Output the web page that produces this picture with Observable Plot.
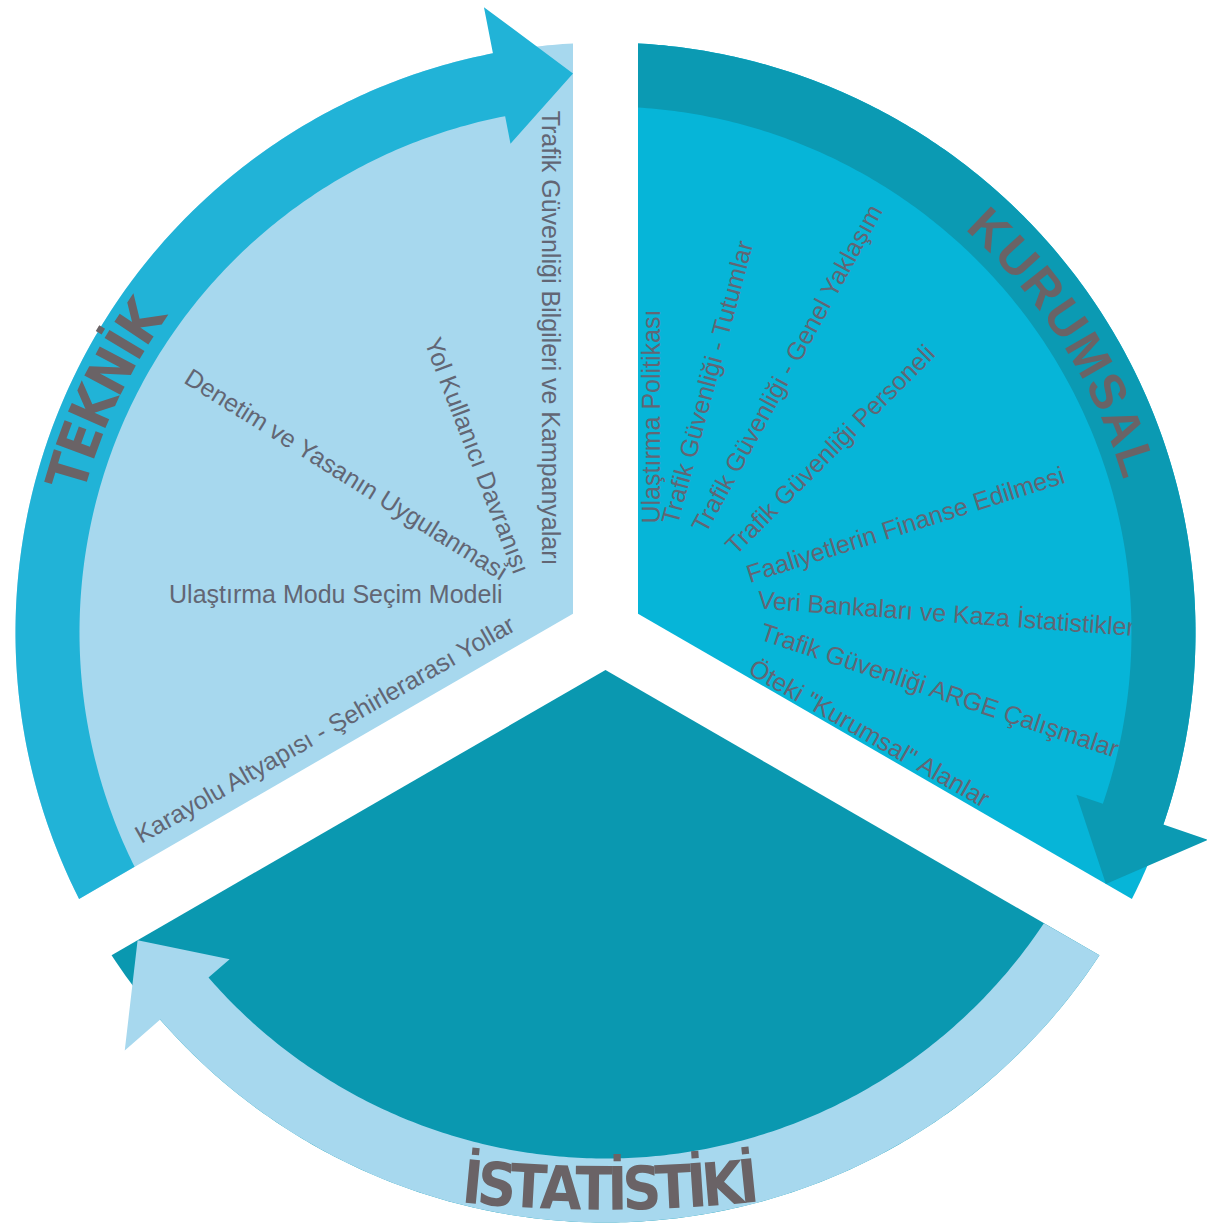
<!DOCTYPE html>
<html>
<head>
<meta charset="utf-8">
<script src="https://cdn.jsdelivr.net/npm/d3@7"></script>
<script src="https://cdn.jsdelivr.net/npm/@observablehq/plot@0.6"></script>
<style>
  html, body { margin: 0; padding: 0; background: #ffffff; }
  #chart svg { display: block; }
</style>
</head>
<body>
<div id="chart"></div>
<script>
// ---------------- DATA ----------------
const sectors = ["TEKNİK", "KURUMSAL", "İSTATİSTİKİ"];
// sector extent, screen degrees (clockwise from east)
const sectorStart = [150, 270, 30];
const sectorEnd = [270, 390, 150];

const teknikItems = [
  "Trafik Güvenliği Bilgileri ve Kampanyaları",
  "Yol Kullanıcı Davranışı",
  "Denetim ve Yasanın Uygulanması",
  "Ulaştırma Modu Seçim Modeli",
  "Karayolu Altyapısı - Şehirlerarası Yollar"
];
const teknikAngles = [90, 69, 32, 0, -29.7];

const kurumsalItems = [
  "Ulaştırma Politikası",
  "Trafik Güvenliği - Tutumlar",
  "Trafik Güvenliği - Genel Yaklaşım",
  "Trafik Güvenliği Personeli",
  "Faaliyetlerin Finanse Edilmesi",
  "Veri Bankaları ve Kaza İstatistikleri",
  "Trafik Güvenliği ARGE Çalışmaları",
  "Öteki \"Kurumsal\" Alanlar"
];
const kurumsalAngles = [-90, -75, -61.3, -45, -17.6, 4.2, 18.4, 29.7];

// ---------------- LAYOUT ----------------
const W = 1207, H = 1224;
const C = [605, 632];
const R_OUT = 590, R_IN = 526;
const GAP = 32.5;                 // half width of the white gaps
const HEAD_BACK = 11;             // degrees from arrow tip edge to barbs
const BARB_IN = 498, BARB_OUT = 637, TIP_R = 560;

const fillColors = ["#a7d8ee", "#06b5d8", "#0a98b0"];
const bandColors = ["#21b3d7", "#0b9ab3", "#a7d8ee"];
const labelColor = "#626674";
const titleColor = "#6a6366";

const leftHub = [549, 598], rightHub = [651, 600];
const teknikGap = [33, 34, 50, 47, 44];
const teknikOffset = [0, 17, 3, -4, 3];
const kurumsalGap = [77, 79, 84, 91, 99, 106, 114, 119];
const kurumsalOffset = [0, -2, 8, 20, 5, -8, -5, 8];

// title placement along arcs (first/last letter centre angles)
const titleCenter = [C, C, [605, -210]];
const titleRadius = [558, 556, 1400];
const titleFirst = [196.7, 313.6, 95.45];
const titleLast = [213.8, 342.0, 84.14];
const titleSize = [56, 50, 60];
const narrowFamily = "'Liberation Sans Narrow', 'DejaVu Sans Condensed', 'Arial Narrow', sans-serif";
const regularFamily = "'Liberation Sans', Arial, Helvetica, sans-serif";
const titleFamily = [narrowFamily, regularFamily, narrowFamily];

// ---------------- GEOMETRY HELPERS ----------------
const rad = d => d * Math.PI / 180;
const deg = r => r * 180 / Math.PI;
const polarAt = (O, r, a) => [O[0] + r * Math.cos(rad(a)), O[1] + r * Math.sin(rad(a))];
const polar = (r, a) => polarAt(C, r, a);

function apex(i) {
  const m = (sectorStart[i] + sectorEnd[i]) / 2;
  return polar(GAP / Math.sin(rad(60)), m);
}
function edgePoint(A, theta, r) {
  const u = [Math.cos(rad(theta)), Math.sin(rad(theta))];
  const D = [A[0] - C[0], A[1] - C[1]];
  const b = D[0] * u[0] + D[1] * u[1];
  const c = D[0] * D[0] + D[1] * D[1] - r * r;
  const t = -b + Math.sqrt(b * b - c);
  return [A[0] + t * u[0], A[1] + t * u[1]];
}
function angOf(P, ref) {
  let a = deg(Math.atan2(P[1] - C[1], P[0] - C[0]));
  while (a < ref - 180) a += 360;
  while (a > ref + 180) a -= 360;
  return a;
}
function arc(r, a0, a1) {
  const n = Math.max(2, Math.ceil(Math.abs(a1 - a0) / 0.5));
  return d3.range(n + 1).map(k => polar(r, a0 + (a1 - a0) * k / n));
}
const toRows = pts => pts.map(([x, y]) => ({x, y}));

function sectorPolygon(i) {
  const A = apex(i);
  const ps = edgePoint(A, sectorStart[i], R_OUT);
  const pe = edgePoint(A, sectorEnd[i], R_OUT);
  const a0 = angOf(ps, sectorStart[i]), a1 = angOf(pe, sectorEnd[i]);
  return toRows([A, ...arc(R_OUT, a0, a1)]);
}
function bandPolygon(i) {
  const A = apex(i);
  const qo = edgePoint(A, sectorStart[i], R_OUT);
  const qi = edgePoint(A, sectorStart[i], R_IN);
  const ao = angOf(qo, sectorStart[i]), ai = angOf(qi, sectorStart[i]);
  const tb = sectorEnd[i] - HEAD_BACK;
  const tip = edgePoint(A, sectorEnd[i], TIP_R);
  return toRows([
    ...arc(R_OUT, ao, tb),
    polar(BARB_OUT, tb),
    tip,
    polar(BARB_IN, tb),
    ...arc(R_IN, tb, ai)
  ]);
}

// ---------------- LABELS ----------------
function labelRows(items, angles, hub, dist, offset, sign) {
  return items.map((label, k) => {
    const a = rad(angles[k]);
    const dir = [Math.cos(a), Math.sin(a)];
    const n = [-dir[1], dir[0]];
    const x = hub[0] + sign * dir[0] * dist[k] + n[0] * offset[k];
    const y = hub[1] + sign * dir[1] * dist[k] + n[1] * offset[k];
    return {label, x, y, rot: angles[k]};
  });
}
const leftLabels = labelRows(teknikItems, teknikAngles, leftHub, teknikGap, teknikOffset, -1);
const rightLabels = labelRows(kurumsalItems, kurumsalAngles, rightHub, kurumsalGap, kurumsalOffset, 1);

// ---------------- TITLES (letter by letter on arcs) ----------------
const ctx = document.createElement("canvas").getContext("2d");
function titleRows(i) {
  const chars = Array.from(sectors[i]);
  ctx.font = `bold ${titleSize[i]}px ${titleFamily[i]}`;
  const widths = chars.map(ch => ctx.measureText(ch).width);
  let acc = 0;
  const centers = widths.map(w => { const c = acc + w / 2; acc += w; return c; });
  const c0 = centers[0], c1 = centers[centers.length - 1];
  const cw = titleLast[i] > titleFirst[i];
  return chars.map((ch, k) => {
    const t = (centers[k] - c0) / (c1 - c0);
    const a = titleFirst[i] + t * (titleLast[i] - titleFirst[i]);
    const [x, y] = polarAt(titleCenter[i], titleRadius[i], a);
    return {ch, x, y, rot: cw ? a + 90 : a - 90};
  });
}

// ---------------- PLOT ----------------
const marks = [];
sectors.forEach((s, i) => {
  marks.push(Plot.line(sectorPolygon(i), {x: "x", y: "y", fill: fillColors[i], stroke: "none", curve: "linear"}));
});
marks.push(Plot.text(leftLabels, {
  x: "x", y: "y", text: "label", rotate: "rot", textAnchor: "end", lineAnchor: "middle",
  fontSize: 25, fontFamily: regularFamily, fill: labelColor
}));
marks.push(Plot.text(rightLabels, {
  x: "x", y: "y", text: "label", rotate: "rot", textAnchor: "start", lineAnchor: "middle",
  fontSize: 25, fontFamily: regularFamily, fill: labelColor
}));
sectors.forEach((s, i) => {
  marks.push(Plot.line(bandPolygon(i), {x: "x", y: "y", fill: bandColors[i], stroke: "none", curve: "linear"}));
});
sectors.forEach((s, i) => {
  marks.push(Plot.text(titleRows(i), {
    x: "x", y: "y", text: "ch", rotate: "rot", textAnchor: "middle", lineAnchor: "middle",
    fontSize: titleSize[i], fontWeight: "bold", fontFamily: titleFamily[i], fill: titleColor
  }));
});

const chart = Plot.plot({
  width: W,
  height: H,
  margin: 0,
  x: {domain: [0, W], range: [0, W], axis: null},
  y: {domain: [0, H], range: [0, H], axis: null},
  style: {background: "#ffffff", overflow: "hidden"},
  marks
});
document.getElementById("chart").appendChild(chart);
</script>
</body>
</html>
